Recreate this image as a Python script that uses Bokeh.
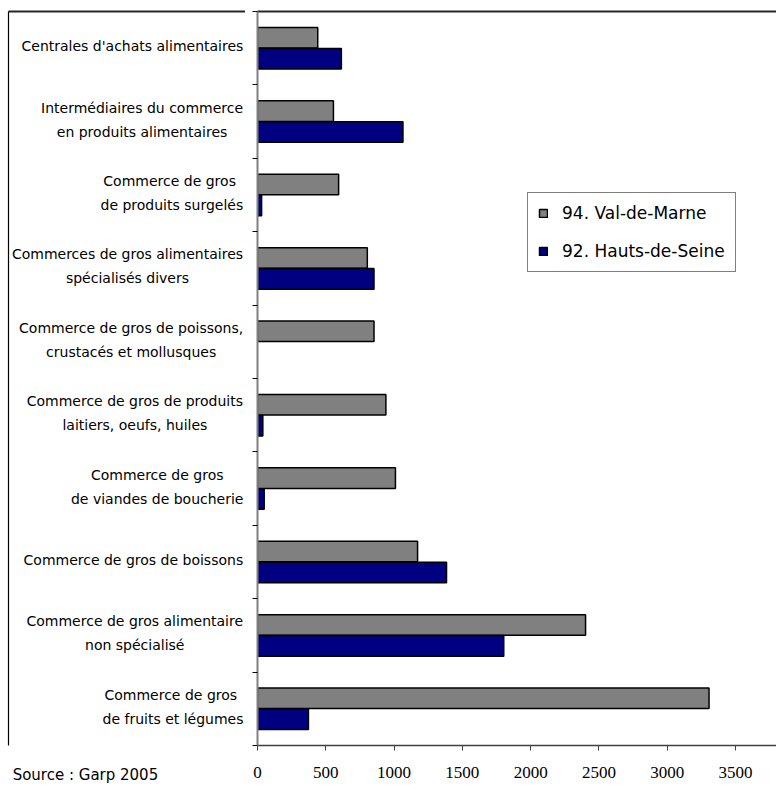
from bokeh.plotting import figure
from bokeh.layouts import row
from bokeh.models import (Range1d, FixedTicker, Legend, LegendItem,
                          ColumnDataSource, LinearAxis)
from bokeh.core.properties import value
from bokeh.embed import file_html
from bokeh.resources import INLINE

# ---------------- data (top to bottom, as in the reference) ----------------
categories = [
    "Centrales d'achats alimentaires",
    "Intermédiaires du commerce\nen produits alimentaires",
    "Commerce de gros \nde produits surgelés",
    "Commerces de gros alimentaires\nspécialisés divers",
    "Commerce de gros de poissons,\ncrustacés et mollusques",
    "Commerce de gros de produits\nlaitiers, oeufs, huiles",
    "Commerce de gros\nde viandes de boucherie",
    "Commerce de gros de boissons",
    "Commerce de gros alimentaire\nnon spécialisé",
    "Commerce de gros \nde fruits et légumes",
]
val_de_marne = [441, 556, 594, 804, 853, 940, 1010, 1172, 2402, 3306]
hauts_de_seine = [614, 1065, 30, 853, 0, 39, 49, 1384, 1803, 373]
series_names = ["94. Val-de-Marne", "92. Hauts-de-Seine"]
x_ticks = [0, 500, 1000, 1500, 2000, 2500, 3000, 3500]
source_text = "Source : Garp 2005"

# ---------------- layout / styling ----------------
GRAY = "#808080"
NAVY = "#000080"
BORDER = "#262626"
X_MAX = 3800
FONT = "DejaVu Sans"
H = 791
TOP = 11
BOTTOM_PAD = 46
LEFT_W = 245
n = len(categories)
frame_h = H - TOP - BOTTOM_PAD
px_per_cat = frame_h / n


def blank_axis(ax, color, width):
    ax.ticker = FixedTicker(ticks=[])
    ax.axis_line_color = color
    ax.axis_line_width = width
    ax.major_tick_line_color = None
    ax.minor_tick_line_color = None
    ax.major_tick_out = 0
    ax.major_tick_in = 0
    ax.major_label_standoff = 0
    ax.major_label_text_font_size = "0px"


# ---------------- main chart ----------------
p = figure(width=776 - LEFT_W, height=H, output_backend="svg",
           toolbar_location=None, x_range=Range1d(0, X_MAX),
           y_range=Range1d(0, n), min_border_left=12, min_border_right=0,
           min_border_top=TOP, min_border_bottom=BOTTOM_PAD)
p.outline_line_color = None
p.grid.visible = False

centers = [n - i - 0.5 for i in range(n)]
off = 0.143
src_vm = ColumnDataSource(dict(y=[c + off for c in centers], v=val_de_marne))
keep = [i for i, v in enumerate(hauts_de_seine) if v > 0]
src_hs = ColumnDataSource(dict(y=[centers[i] - off for i in keep],
                               v=[hauts_de_seine[i] for i in keep]))

r1 = p.hbar(y="y", right="v", left=0, height=0.28, source=src_vm,
            fill_color=GRAY, line_color="black", line_width=1.5)
r2 = p.hbar(y="y", right="v", left=0, height=0.28, source=src_hs,
            fill_color=NAVY, line_color="black", line_width=1.5)

xa = p.xaxis[0]
xa.ticker = FixedTicker(ticks=x_ticks)
xa.axis_line_color = "#404040"
xa.axis_line_width = 1.5
xa.major_tick_line_color = "#404040"
xa.major_tick_out = 5
xa.major_tick_in = 0
xa.minor_tick_line_color = None
xa.major_label_text_font = "Liberation Sans Narrow"
xa.major_label_text_font_size = "17px"
xa.major_label_text_color = "black"
xa.major_label_standoff = 16

ya = p.yaxis[0]
ya.ticker = FixedTicker(ticks=list(range(n + 1)))
ya.major_label_overrides = {i: "" for i in range(n + 1)}
ya.major_label_standoff = 0
ya.axis_line_color = GRAY
ya.axis_line_width = 2
ya.major_tick_line_color = "black"
ya.major_tick_out = 5
ya.major_tick_in = 0
ya.minor_tick_line_color = None

top_axis = LinearAxis()
blank_axis(top_axis, BORDER, 2)
p.add_layout(top_axis, "above")

legend = Legend(items=[LegendItem(label=series_names[0], renderers=[r1]),
                       LegendItem(label=series_names[1], renderers=[r2])],
                location=(270, 473), orientation="vertical",
                padding=10, spacing=18, margin=0, label_height=20,
                glyph_width=10, glyph_height=10, label_standoff=14,
                label_text_font=FONT, label_text_font_size="17px",
                label_text_color="black", border_line_color="black",
                border_line_width=1, background_fill_color="white",
                background_fill_alpha=1)
p.add_layout(legend)

# ---------------- label column ----------------
lab = figure(width=LEFT_W, height=H, output_backend="svg",
             toolbar_location=None, x_range=Range1d(8, LEFT_W),
             y_range=Range1d(0, n), min_border_left=8, min_border_right=0,
             min_border_top=TOP, min_border_bottom=BOTTOM_PAD,
             x_axis_location=None, y_axis_location=None)
lab.outline_line_color = None
lab.grid.visible = False
left_axis = LinearAxis()
blank_axis(left_axis, "black", 1.2)
lab.add_layout(left_axis, "left")
lab_top = LinearAxis()
blank_axis(lab_top, BORDER, 2)
lab.add_layout(lab_top, "above")

W = {" ": .318, ",": .318, "'": .275, ".": .318, "-": .361, ":": .337,
     "a": .613, "b": .635, "c": .550, "d": .635, "e": .615, "f": .352,
     "g": .635, "h": .634, "i": .278, "j": .278, "k": .579, "l": .278,
     "m": .974, "n": .634, "o": .612, "p": .635, "q": .635, "r": .411,
     "s": .521, "t": .392, "u": .634, "v": .592, "w": .818, "x": .592,
     "y": .592, "z": .525, "é": .615, "C": .698, "I": .295, "S": .635,
     "G": .775, "0": .636, "2": .636, "5": .636}


def est_width(s, size=14):
    return sum(W.get(ch, .6) for ch in s.rstrip()) * size


# source line shown as the single tick label of a bare bottom axis
src_x = 12 + est_width(source_text, 15) / 2
bot = LinearAxis(ticker=FixedTicker(ticks=[src_x]))
bot.major_label_overrides = {src_x: source_text}
bot.axis_line_color = None
bot.major_tick_line_color = None
bot.minor_tick_line_color = None
bot.major_tick_out = 5
bot.major_tick_in = 0
bot.major_label_standoff = 15
bot.major_label_text_font = FONT
bot.major_label_text_font_size = "15px"
bot.major_label_text_color = "black"
lab.add_layout(bot, "below")

RIGHT_EDGE = 243
LINE_GAP = 24
LIFT = 2
tx, ty, tt = [], [], []
for c, text in zip(centers, categories):
    lines = text.split("\n")
    block = max(est_width(l) for l in lines)
    for k, line in enumerate(lines):
        tx.append(RIGHT_EDGE - block / 2)
        ty.append(c + (((len(lines) - 1) / 2 - k) * LINE_GAP + LIFT) / px_per_cat)
        tt.append(line)
lab.text(x=tx, y=ty, text=tt, text_align="center", text_baseline="middle",
         text_font=value(FONT), text_font_size=value("14px"),
         text_color="black")

layout = row(lab, p, spacing=0)
open("out.html", "w").write(file_html(layout, INLINE))
